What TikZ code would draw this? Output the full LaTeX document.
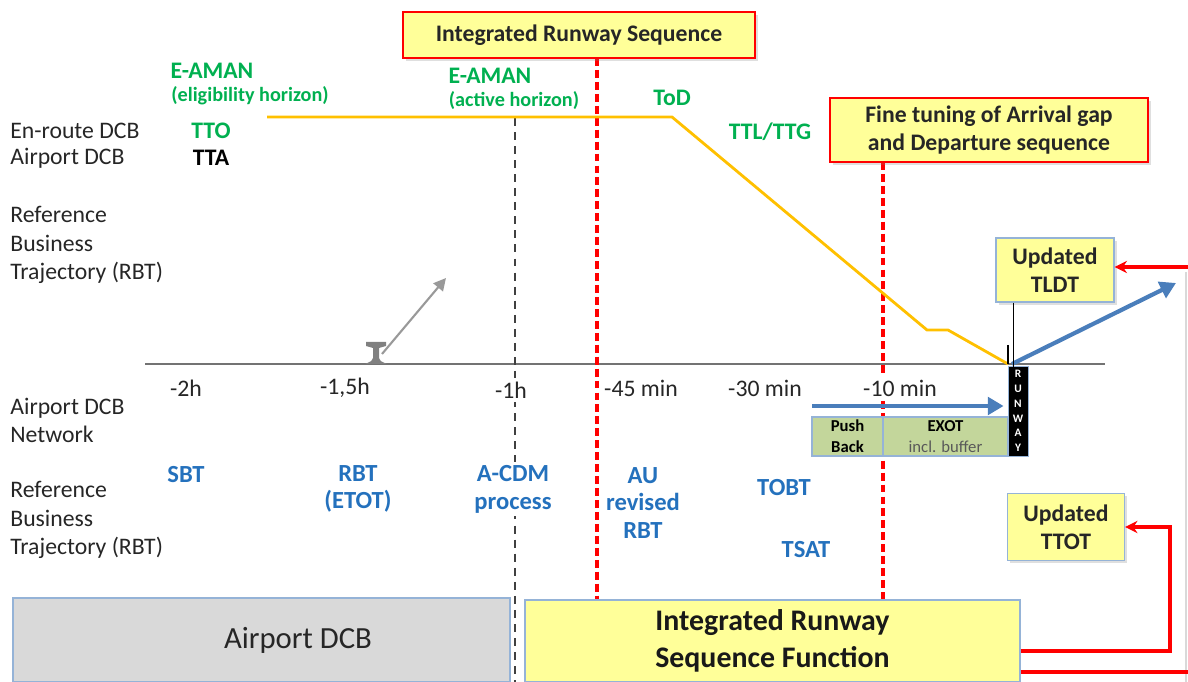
\documentclass[tikz,border=0pt]{standalone}
\usepackage{fontspec}
\setmainfont{Carlito}
\usetikzlibrary{arrows.meta,positioning,shadows,calc}
\definecolor{amangreen}{RGB}{0,176,80}
\definecolor{rbtblue}{RGB}{36,113,189}
\definecolor{arrblue}{RGB}{74,126,187}
\definecolor{todorange}{RGB}{255,192,0}
\definecolor{boxyellow}{RGB}{255,255,153}
\definecolor{boxedge}{RGB}{149,179,215}
\definecolor{pushgreen}{RGB}{195,214,155}
\definecolor{dcbgray}{RGB}{217,217,217}
\definecolor{txtgray}{RGB}{38,38,38}
\tikzset{
  seqbox/.style={draw=red, line width=1pt, fill=boxyellow, font=\bfseries\fontsize{13.5}{16}\selectfont,
    align=center, inner sep=0pt, text=black!85, drop shadow={shadow xshift=1.5pt, shadow yshift=-1.5pt, opacity=0.25}},
  updbox/.style={draw=boxedge, line width=0.8pt, fill=boxyellow, font=\bfseries\fontsize{13.5}{16}\selectfont,
    align=center, inner sep=0pt, text=black!85, drop shadow={shadow xshift=1.5pt, shadow yshift=-1.5pt, opacity=0.25}},
  taxibox/.style={draw=boxedge, line width=0.8pt, fill=pushgreen, align=center, inner sep=0pt,
    minimum height=0.78cm, font=\fontsize{9.5}{12}\selectfont},
  sidelbl/.style={anchor=west, align=left, text=txtgray, inner sep=0pt, font=\fontsize{13.5}{16}\selectfont},
  axlbl/.style={fill=white, inner sep=2pt, text=txtgray, font=\fontsize{13.5}{16}\selectfont},
  amanlbl/.style={text=amangreen, align=center, inner sep=1pt, font=\bfseries\fontsize{13.5}{16}\selectfont},
  horlbl/.style={amanlbl, font=\bfseries\fontsize{11.5}{14}\selectfont},
  rbtlbl/.style={text=rbtblue, align=center, fill=white, inner sep=2pt, font=\bfseries\fontsize{14}{15.8}\selectfont},
  reddash/.style={red, line width=2pt, dash pattern=on 4.5pt off 2.3pt},
  redline/.style={red, line width=2pt},
  redarrow/.style={redline, -{Stealth[length=7pt,width=7pt]}},
  bluearrow/.style={arrblue, line width=2.4pt, -{Triangle[length=9pt,width=10pt]}}
}
\begin{document}
\begin{tikzpicture}[x=0.02cm, y=-0.02cm]
\useasboundingbox (0,0) rectangle (1188,682);
% faint page edge
\draw[black!15, line width=0.6pt] (1186,272) -- (1186,682);

% time axis and horizon lines
\draw[black!55, line width=1.2pt] (145,364) -- (1105,364);
\draw[black!75, line width=1.4pt, dash pattern=on 4.5pt off 3.5pt] (515,118) -- (515,682);
\draw[reddash] (597,58) -- (597,600);
\draw[reddash] (883,162) -- (883,600);

% descent profile
\coordinate (amanstart) at (267,117);
\coordinate (tod) at (672,117);
\coordinate (stepa) at (927,330);
\coordinate (stepb) at (948,330);
\coordinate (thr) at (1008,364);
\draw[todorange, line width=1.6pt] (amanstart) -- (tod) -- (stepa) -- (stepb) -- (thr);
\draw[black, line width=0.8pt] (1008,345) -- (1008,364);

% departure marker
\fill[black!50] (366,342) -- (386,342) -- (386,346) -- (379,348) -- (379,358)
  .. controls (380,361) .. (387,364) -- (365,364) .. controls (372,361) .. (373,358)
  -- (373,348) -- (366,346) -- cycle;
\coordinate (depfoot) at (382,354);
\coordinate (dephead) at (446,278);
\draw[black!40, line width=1.2pt, -{Triangle[length=7pt,width=7pt]}] (depfoot) -- (dephead);

% boxes
\node[seqbox, minimum width=7.04cm, minimum height=0.92cm] (seqtop) at (579,35) {Integrated Runway Sequence};
\node[seqbox, minimum width=6.36cm, minimum height=1.28cm] (finetune) at (989,130) {Fine tuning of Arrival gap\\and Departure sequence};
\node[updbox, minimum width=2.36cm, minimum height=1.28cm] (tldt) at (1055,270) {Updated\\TLDT};
\node[updbox, minimum width=2.34cm, minimum height=1.34cm] (ttot) at (1066,527) {Updated\\TTOT};
\node[draw=boxedge, line width=0.8pt, fill=dcbgray, minimum width=9.94cm, minimum height=1.68cm,
  inner sep=0pt] (dcbbox) at (261.5,640) {};
\node[text=txtgray, font=\fontsize{17.5}{20}\selectfont, inner sep=0pt] (dcbtext) at (298,640) {Airport DCB};
\node[draw=boxedge, line width=0.8pt, fill=boxyellow, minimum width=9.9cm, minimum height=1.64cm,
  inner sep=0pt, align=center, text=black!90, font=\bfseries\fontsize{17}{21}\selectfont] (irsf) at (772.5,641) {Integrated Runway\\Sequence Function};

% runway and taxi
\node[taxibox, minimum width=1.42cm, font=\bfseries\fontsize{9.5}{12}\selectfont] (push) at (847.5,436.5) {Push\\Back};
\node[taxibox, minimum width=2.5cm] (exot) at (945.5,436.5) {\textbf{EXOT}\\\textcolor{black!65}{incl. buffer}};
\node[fill=black, draw=boxedge, line width=0.5pt, minimum width=0.4cm, minimum height=1.8cm, inner sep=0pt,
  text=white, align=center, font=\bfseries\fontsize{6.5}{8.4}\selectfont] (runway) at (1018,411) {R\\U\\N\\W\\A\\Y};
\coordinate (taxistart) at (812,406);
\draw[bluearrow] (taxistart) -- ($(runway.west |- taxistart)+(-4,0)$);
\coordinate (climbend) at (1176,283);
\draw[bluearrow] (thr) ++(4,0) -- (climbend);
\draw[black, line width=0.9pt] (tldt.south west) ++(18,0) -- ++(0,64);

% feedback from the sequence function
\coordinate (tldtfeed) at (1188,267);
\draw[redarrow] (tldtfeed) -- (tldt.east |- tldtfeed);
\coordinate (ttotbend) at (1170,651);
\draw[redarrow] (irsf.east |- ttotbend) -- (ttotbend) |- (ttot.east);
\coordinate (seqout) at (1188,672);
\draw[redline] (irsf.east |- seqout) -- (seqout);

% left side labels
\node[sidelbl] (enroute) at (10,131) {En-route DCB};
\node[sidelbl] (aptdcb) at (10,158) {Airport DCB};
\node[sidelbl] (rbtup) at (10,245) {Reference\\Business\\Trajectory (RBT)};
\node[sidelbl] (network) at (10,420) {Airport DCB\\Network};
\node[sidelbl] (rbtlow) at (10,520) {Reference\\Business\\Trajectory (RBT)};

% horizons
\node[amanlbl] (amanelig) at (212,71) {E-AMAN};
\node[horlbl] (eligh) at (250,96) {(eligibility horizon)};
\node[amanlbl] (amanact) at (490,76) {E-AMAN};
\node[horlbl] (acth) at (514,101) {(active horizon)};
\node[amanlbl] (todlbl) at (672,98) {ToD};
\node[amanlbl] (ttl) at (770,132) {TTL/TTG};
\node[amanlbl] (tto) at (211,131) {TTO};
\node[amanlbl, text=black] (tta) at (211,158) {TTA};

% time axis labels
\node[axlbl] (t120) at (186,388) {-2h};
\node[axlbl] (t90) at (345,388) {-1,5h};
\node[axlbl] (t60) at (511,390) {-1h};
\node[axlbl] (t45) at (641,388) {-45 min};
\node[axlbl] (t30) at (765,388) {-30 min};
\node[axlbl] (t10) at (900,388) {-10 min};

% departure milestones
\node[rbtlbl] (sbt) at (186,475) {SBT};
\node[rbtlbl] (rbtetot) at (358,489) {RBT\\(ETOT)};
\node[rbtlbl] (acdm) at (513,489) {A-CDM\\process};
\node[rbtlbl] (aurbt) at (643,503) {AU\\revised\\RBT};
\node[rbtlbl] (tobt) at (784,488) {TOBT};
\node[rbtlbl] (tsat) at (806,550) {TSAT};
\end{tikzpicture}
\end{document}
